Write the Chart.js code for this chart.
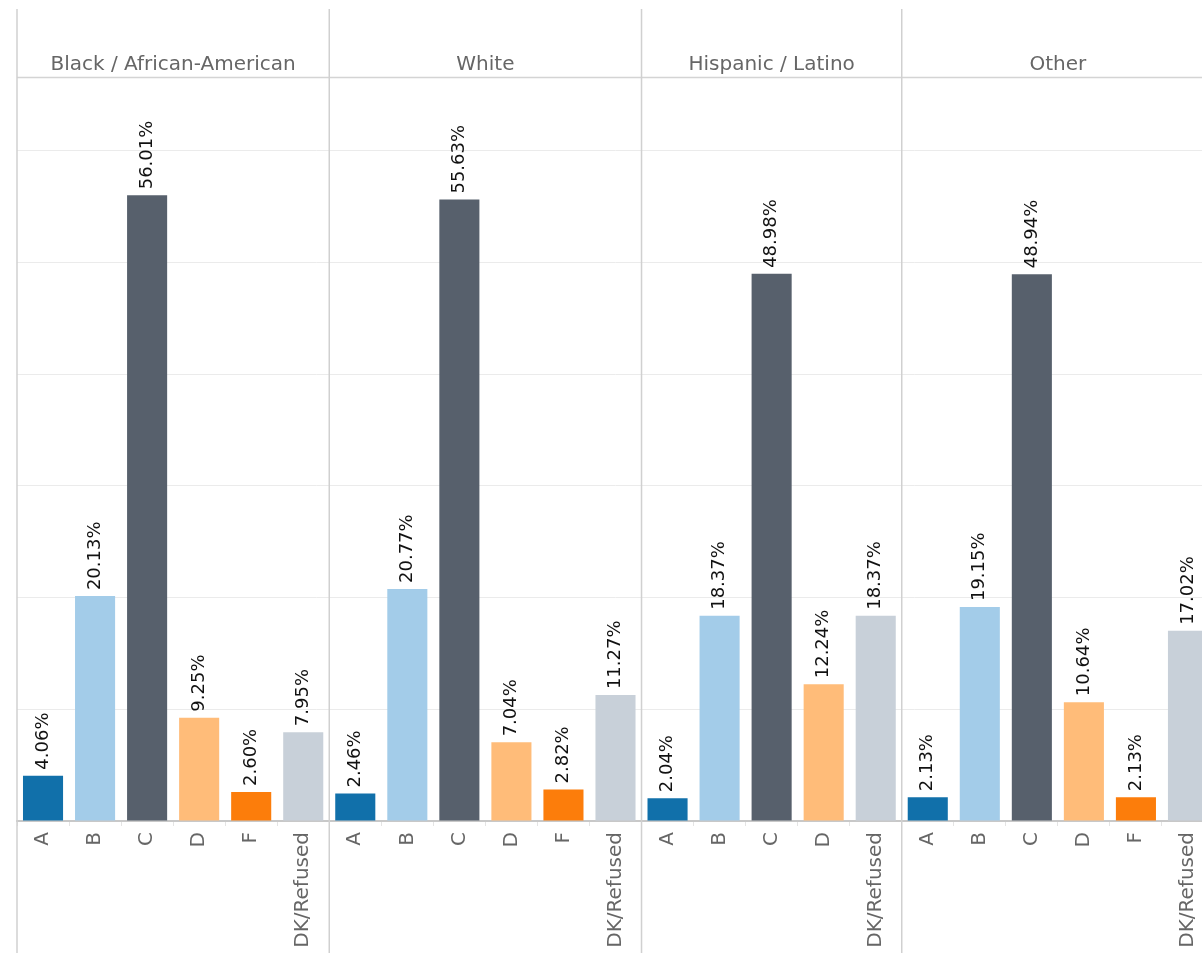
<!DOCTYPE html>
<html>
<head>
<meta charset="utf-8">
<script src="https://cdn.jsdelivr.net/npm/chart.js@4"></script>
<style>
  html, body { margin: 0; padding: 0; overflow: hidden; background: #fff; }
  #wrap { width: 1214px; height: 953px; }
</style>
</head>
<body>
<div id="wrap"><canvas id="chart" width="1214" height="953"></canvas></div>
<script>
// Datos
var grupos = ['Black / African-American', 'White', 'Hispanic / Latino', 'Other'];
var notas_black = ['A', 'B', 'C', 'D', 'F', 'DK/Refused'];
var notas_white = ['A', 'B', 'C', 'D', 'F', 'DK/Refused'];
var notas_hispanic = ['A', 'B', 'C', 'D', 'DK/Refused'];
var notas_other = ['A', 'B', 'C', 'D', 'F', 'DK/Refused'];
var valores_black = [4.06, 20.13, 56.01, 9.25, 2.60, 7.95];
var valores_white = [2.46, 20.77, 55.63, 7.04, 2.82, 11.27];
var valores_hispanic = [2.04, 18.37, 48.98, 12.24, 18.37];
var valores_other = [2.13, 19.15, 48.94, 10.64, 2.13, 17.02];

// Colores por nota
var colores = {
  'A': '#1170aa',
  'B': '#a3cce9',
  'C': '#57606c',
  'D': '#ffbc79',
  'F': '#fc7d0b',
  'DK/Refused': '#c8d0d9'
};

var notas_grupo = [notas_black, notas_white, notas_hispanic, notas_other];
var valores_grupo = [valores_black, valores_white, valores_hispanic, valores_other];

// Aplanar para el eje de categorías
var etiquetas = [];
var valores = [];
var fondos = [];
notas_grupo.forEach(function (notas, g) {
  notas.forEach(function (n, i) {
    etiquetas.push(n);
    valores.push(valores_grupo[g][i]);
    fondos.push(colores[n]);
  });
});

var fuente = '"DejaVu Sans", sans-serif';

// Plugin: cabeceras de panel, separadores y etiquetas de valor
var panelesPlugin = {
  id: 'paneles',
  afterDraw: function (chart) {
    var ctx = chart.ctx;
    var xs = chart.scales.x;
    var area = chart.chartArea;
    var paso = xs.getPixelForValue(1) - xs.getPixelForValue(0);

    ctx.save();
    // línea bajo las cabeceras
    ctx.strokeStyle = '#d4d4d4';
    ctx.lineWidth = 1.5;
    ctx.beginPath();
    ctx.moveTo(area.left, area.top + 0.5);
    ctx.lineTo(chart.width, area.top + 0.5);
    ctx.stroke();

    var inicio = 0;
    notas_grupo.forEach(function (notas, g) {
      var izq = xs.getPixelForValue(inicio) - paso / 2;
      var der = xs.getPixelForValue(inicio + notas.length - 1) + paso / 2;
      // separador vertical
      ctx.strokeStyle = '#d0d0d0';
      ctx.lineWidth = 1.5;
      ctx.beginPath();
      ctx.moveTo(izq, 9);
      ctx.lineTo(izq, chart.height);
      ctx.stroke();
      // cabecera
      ctx.fillStyle = '#666';
      ctx.font = '20px ' + fuente;
      ctx.textAlign = 'center';
      ctx.textBaseline = 'middle';
      ctx.fillText(grupos[g], (izq + der) / 2, 65);
      inicio += notas.length;
    });

    // etiquetas de valor giradas
    var meta = chart.getDatasetMeta(0);
    ctx.fillStyle = '#111';
    ctx.font = '18px ' + fuente;
    ctx.textAlign = 'left';
    ctx.textBaseline = 'middle';
    meta.data.forEach(function (barra, i) {
      ctx.save();
      ctx.translate(barra.x, barra.y - 6);
      ctx.rotate(-Math.PI / 2);
      ctx.fillText(valores[i].toFixed(2) + '%', 0, 0);
      ctx.restore();
    });
    ctx.restore();
  }
};

var ctx = document.getElementById('chart').getContext('2d');
var grafico = new Chart(ctx, {
  type: 'bar',
  data: {
    labels: etiquetas,
    datasets: [{
      data: valores,
      backgroundColor: fondos,
      borderWidth: 0,
      barPercentage: 0.77,
      categoryPercentage: 1
    }]
  },
  options: {
    responsive: false,
    animation: false,
    layout: { padding: { left: 17, top: 77, right: 0, bottom: 0 } },
    plugins: {
      legend: { display: false },
      tooltip: { enabled: false }
    },
    scales: {
      x: {
        afterFit: function (scale) {
          scale.height = 132;
          scale.paddingLeft = 0;
          scale.paddingRight = 0;
        },
        border: { color: '#c8c8c8', width: 2 },
        grid: { offset: true, drawOnChartArea: false, tickLength: 5, color: '#e4e4e4' },
        ticks: {
          autoSkip: false,
          minRotation: 90,
          maxRotation: 90,
          padding: 6,
          color: '#666',
          font: { family: fuente, size: 20 }
        }
      },
      y: {
        min: 0,
        max: 66.6,
        afterFit: function (scale) { scale.width = 0; },
        border: { display: false },
        grid: { color: '#ebebeb', drawTicks: false },
        ticks: { display: false, stepSize: 10 }
      }
    }
  },
  plugins: [panelesPlugin]
});
</script>
</body>
</html>
